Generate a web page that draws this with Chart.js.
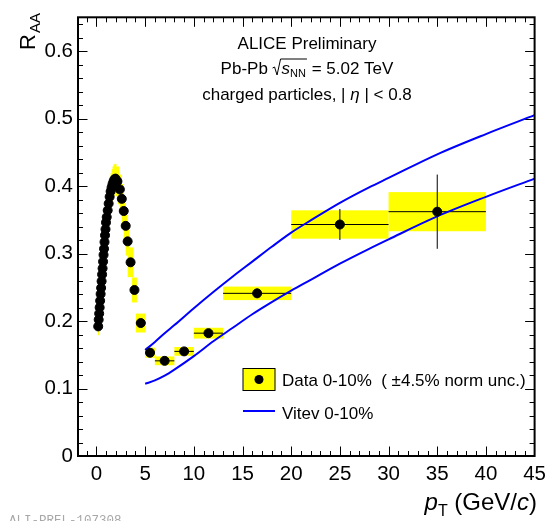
<!DOCTYPE html>
<html>
<head>
<meta charset="utf-8">
<script src="https://cdn.jsdelivr.net/npm/chart.js@4.4.1/dist/chart.umd.min.js"></script>
<style>
  html, body { margin: 0; padding: 0; background: #fff; }
</style>
</head>
<body>
<canvas id="raaChart" width="552" height="521"></canvas>
<script>
// Données ALICE 0-10% (pT, RAA, erreurs)
const dataPt = [0.175, 0.225, 0.275, 0.325, 0.375, 0.425, 0.475, 0.525, 0.575, 0.625, 0.675, 0.725, 0.775, 0.825, 0.875, 0.925, 0.975,
  1.05, 1.15, 1.25, 1.35, 1.45, 1.55, 1.65, 1.75, 1.85, 1.95,
  2.15, 2.4, 2.6, 2.8, 3.0, 3.2, 3.5, 3.9, 4.55,
  5.5, 7, 9, 11.5, 16.5, 25, 35];
const dataRaa = [0.192, 0.202, 0.211, 0.220, 0.230, 0.240, 0.249, 0.259, 0.269, 0.278, 0.288, 0.298, 0.307, 0.317, 0.327, 0.336, 0.346,
  0.354, 0.364, 0.374, 0.384, 0.392, 0.398, 0.403, 0.407, 0.410, 0.411,
  0.407, 0.395, 0.381, 0.363, 0.341, 0.318, 0.287, 0.246, 0.197,
  0.153, 0.141, 0.155, 0.182, 0.241, 0.343, 0.362];
const dataStat = [0.002, 0.002, 0.002, 0.002, 0.002, 0.002, 0.002, 0.002, 0.002, 0.002, 0.002, 0.002, 0.002, 0.002, 0.002, 0.002, 0.002,
  0.002, 0.002, 0.002, 0.002, 0.002, 0.002, 0.002, 0.002, 0.002, 0.002,
  0.002, 0.002, 0.002, 0.002, 0.002, 0.002, 0.002, 0.002, 0.002,
  0.003, 0.003, 0.003, 0.004, 0.007, 0.023, 0.055];
const dataSys = [0.013, 0.013, 0.014, 0.014, 0.015, 0.015, 0.016, 0.016, 0.017, 0.017, 0.018, 0.018, 0.018, 0.019, 0.019, 0.019, 0.020,
  0.020, 0.020, 0.021, 0.021, 0.021, 0.021, 0.022, 0.022, 0.022, 0.022,
  0.022, 0.022, 0.022, 0.021, 0.021, 0.021, 0.022, 0.0185, 0.014,
  0.0075, 0.0065, 0.0065, 0.008, 0.010, 0.021, 0.029];
// demi-largeur des intervalles en pT
const binHalf = [0.025, 0.025, 0.025, 0.025, 0.025, 0.025, 0.025, 0.025, 0.025, 0.025, 0.025, 0.025, 0.025, 0.025, 0.025, 0.025, 0.025,
  0.1, 0.1, 0.1, 0.1, 0.1, 0.1, 0.1, 0.1, 0.1, 0.1,
  0.2, 0.2, 0.2, 0.2, 0.2, 0.2, 0.3, 0.25, 0.5,
  0.5, 1, 1, 1.5, 3.5, 5, 5];

// Modèle Vitev 0-10% (bande haute et basse)
const vitevPt = [5, 6, 7, 8, 10, 12, 14, 16, 18, 20, 22, 25, 28, 30, 35, 40, 45];
const vitevHigh = [0.157, 0.169, 0.182, 0.194, 0.219, 0.243, 0.266, 0.288, 0.310, 0.331, 0.349, 0.375, 0.398, 0.412, 0.447, 0.477, 0.505];
const vitevLow = [0.107, 0.112, 0.119, 0.128, 0.148, 0.170, 0.190, 0.210, 0.228, 0.245, 0.261, 0.285, 0.307, 0.321, 0.355, 0.384, 0.411];

// Graduations
const xTicks = [0, 5, 10, 15, 20, 25, 30, 35, 40, 45];
const yTicks = [0, 0.1, 0.2, 0.3, 0.4, 0.5, 0.6];
const yTickLabels = ['0', '0.1', '0.2', '0.3', '0.4', '0.5', '0.6'];

const FONT = '"Liberation Sans", Arial, Helvetica, sans-serif';
const BLUE = '#0000ff';
const YELLOW = '#ffff00';

// Plugin style ROOT : boîtes systématiques, cadre, graduations internes, textes
const rootStyle = {
  id: 'rootStyle',
  beforeDatasetsDraw(chart) {
    const { ctx, chartArea: a, scales: { x, y } } = chart;
    ctx.save();
    ctx.beginPath();
    ctx.rect(a.left, a.top, a.width, a.height);
    ctx.clip();

    // boîtes d'erreur systématique
    ctx.fillStyle = YELLOW;
    dataPt.forEach((p, i) => {
      const x0 = x.getPixelForValue(p - binHalf[i]);
      const x1 = x.getPixelForValue(p + binHalf[i]);
      const y0 = y.getPixelForValue(dataRaa[i] + dataSys[i]);
      const y1 = y.getPixelForValue(dataRaa[i] - dataSys[i]);
      ctx.fillRect(x0, y0, Math.max(x1 - x0, 1), y1 - y0);
    });

    // barres d'erreur statistique
    ctx.strokeStyle = '#000';
    ctx.lineWidth = 1;
    ctx.beginPath();
    dataPt.forEach((p, i) => {
      const px = x.getPixelForValue(p);
      const py = y.getPixelForValue(dataRaa[i]);
      ctx.moveTo(x.getPixelForValue(p - binHalf[i]), py);
      ctx.lineTo(x.getPixelForValue(p + binHalf[i]), py);
      ctx.moveTo(px, y.getPixelForValue(dataRaa[i] + dataStat[i]));
      ctx.lineTo(px, y.getPixelForValue(dataRaa[i] - dataStat[i]));
    });
    ctx.stroke();
    ctx.restore();
  },
  afterDraw(chart) {
    const { ctx, chartArea: a, scales: { x, y } } = chart;
    ctx.save();

    // cadre
    ctx.strokeStyle = '#000';
    ctx.lineWidth = 2;
    ctx.strokeRect(a.left, a.top, a.right - a.left, a.bottom - a.top);

    // graduations vers l'intérieur
    ctx.lineWidth = 1;
    ctx.beginPath();
    for (let k = -1; k <= 45; k++) {
      const px = Math.round(x.getPixelForValue(k)) + 0.5;
      if (px < a.left || px > a.right) continue;
      const len = k % 5 === 0 ? 9.5 : 5;
      ctx.moveTo(px, a.bottom); ctx.lineTo(px, a.bottom - len);
      ctx.moveTo(px, a.top); ctx.lineTo(px, a.top + len);
    }
    for (let k = 0; k <= 32; k++) {
      const py = Math.round(y.getPixelForValue(k * 0.02)) + 0.5;
      const len = k % 5 === 0 ? 9.5 : 5;
      ctx.moveTo(a.left, py); ctx.lineTo(a.left + len, py);
      ctx.moveTo(a.right, py); ctx.lineTo(a.right - len, py);
    }
    ctx.stroke();

    ctx.fillStyle = '#000';
    ctx.textBaseline = 'alphabetic';

    // titre axe Y : R_AA
    ctx.save();
    ctx.translate(35, 50);
    ctx.rotate(-Math.PI / 2);
    ctx.textAlign = 'left';
    ctx.font = '22px ' + FONT;
    ctx.fillText('R', 0, 0);
    const wR = ctx.measureText('R').width;
    ctx.font = '15px ' + FONT;
    ctx.fillText('AA', wR + 1, 5);
    ctx.restore();

    // titre axe X : p_T (GeV/c)
    const xParts = [
      { t: 'p', f: 'italic 24px ' + FONT, dy: 0 },
      { t: 'T', f: '16px ' + FONT, dy: 6 },
      { t: ' (GeV/', f: '24px ' + FONT, dy: 0 },
      { t: 'c', f: 'italic 24px ' + FONT, dy: 0 },
      { t: ')', f: '24px ' + FONT, dy: 0 }
    ];
    let total = 0;
    xParts.forEach(p => { ctx.font = p.f; p.w = ctx.measureText(p.t).width; total += p.w; });
    let cx = 537 - total;
    ctx.textAlign = 'left';
    xParts.forEach(p => { ctx.font = p.f; ctx.fillText(p.t, cx, 510 + p.dy); cx += p.w; });

    // textes ALICE
    const mid = 307;
    ctx.textAlign = 'center';
    ctx.font = '17px ' + FONT;
    ctx.fillText('ALICE Preliminary', mid, 49);

    // Pb-Pb √sNN = 5.02 TeV
    ctx.textAlign = 'left';
    const f17 = '17px ' + FONT, fIt = 'italic 17px ' + FONT, f11 = '11px ' + FONT;
    ctx.font = f17; const w1 = ctx.measureText('Pb-Pb ').width;
    const wRad = 9;
    ctx.font = fIt; const wS = ctx.measureText('s').width;
    ctx.font = f11; const wNN = ctx.measureText('NN').width;
    ctx.font = f17; const w2 = ctx.measureText(' = 5.02 TeV').width;
    let sx = mid - (w1 + wRad + wS + wNN + 1 + w2) / 2;
    const by = 74;
    ctx.font = f17; ctx.fillText('Pb-Pb ', sx, by); sx += w1;
    ctx.beginPath();
    ctx.lineWidth = 1;
    ctx.moveTo(sx, by - 6);
    ctx.lineTo(sx + 2, by - 7);
    ctx.lineTo(sx + 4.5, by + 1);
    ctx.lineTo(sx + 8, by - 15);
    ctx.lineTo(sx + wRad + wS + wNN + 1, by - 15);
    ctx.stroke();
    sx += wRad;
    ctx.font = fIt; ctx.fillText('s', sx, by); sx += wS;
    ctx.font = f11; ctx.fillText('NN', sx, by + 3); sx += wNN + 1;
    ctx.font = f17; ctx.fillText(' = 5.02 TeV', sx, by);

    // charged particles, | η | < 0.8
    const cParts = [
      { t: 'charged particles, | ', f: f17 },
      { t: 'η', f: fIt },
      { t: ' | < 0.8', f: f17 }
    ];
    total = 0;
    cParts.forEach(p => { ctx.font = p.f; p.w = ctx.measureText(p.t).width; total += p.w; });
    cx = mid - total / 2;
    cParts.forEach(p => { ctx.font = p.f; ctx.fillText(p.t, cx, 100); cx += p.w; });

    // légende
    ctx.fillStyle = YELLOW;
    ctx.fillRect(243, 368.5, 32, 22);
    ctx.strokeStyle = '#000';
    ctx.lineWidth = 1;
    ctx.strokeRect(243, 368.5, 32, 22);
    ctx.fillStyle = '#000';
    ctx.beginPath();
    ctx.arc(259, 379.5, 4.5, 0, Math.PI * 2);
    ctx.fill();
    ctx.strokeStyle = BLUE;
    ctx.lineWidth = 2;
    ctx.beginPath();
    ctx.moveTo(243, 411);
    ctx.lineTo(275, 411);
    ctx.stroke();
    ctx.fillStyle = '#000';
    ctx.font = f17;
    ctx.fillText('Data 0-10%  ( \u00b14.5% norm unc.)', 282, 386);
    ctx.fillText('Vitev 0-10%', 282, 419);

    // identifiant de la figure
    ctx.fillStyle = '#a8a8a8';
    ctx.font = '12.5px "Liberation Mono", monospace';
    ctx.fillText('ALI-PREL-107308', 9, 524);

    ctx.restore();
  }
};

const ctx = document.getElementById('raaChart').getContext('2d');
const raaChart = new Chart(ctx, {
  type: 'scatter',
  data: {
    datasets: [
      {
        label: 'Data 0-10%',
        data: dataPt.map((p, i) => ({ x: p, y: dataRaa[i] })),
        backgroundColor: '#000',
        borderColor: '#000',
        pointRadius: 4.5,
        pointHoverRadius: 4.5,
        showLine: false
      },
      {
        label: 'Vitev 0-10% (haut)',
        type: 'line',
        data: vitevPt.map((p, i) => ({ x: p, y: vitevHigh[i] })),
        borderColor: BLUE,
        borderWidth: 2,
        pointRadius: 0,
        fill: false,
        cubicInterpolationMode: 'monotone'
      },
      {
        label: 'Vitev 0-10% (bas)',
        type: 'line',
        data: vitevPt.map((p, i) => ({ x: p, y: vitevLow[i] })),
        borderColor: BLUE,
        borderWidth: 2,
        pointRadius: 0,
        fill: false,
        cubicInterpolationMode: 'monotone'
      }
    ]
  },
  options: {
    responsive: false,
    animation: false,
    layout: { padding: { left: 0, top: 14, right: 15, bottom: 0 } },
    plugins: {
      legend: { display: false },
      tooltip: { enabled: false }
    },
    scales: {
      x: {
        type: 'linear',
        min: -1.9,
        max: 45,
        grid: { display: false, drawTicks: false },
        border: { display: false },
        afterBuildTicks: s => { s.ticks = xTicks.map(v => ({ value: v })); },
        afterFit: s => { s.height = 65; },
        ticks: {
          color: '#000',
          font: { family: FONT, size: 20.5 },
          padding: 6,
          maxRotation: 0,
          autoSkip: false,
          callback: (v, i) => String(xTicks[i])
        }
      },
      y: {
        type: 'linear',
        min: 0,
        max: 0.65,
        grid: { display: false, drawTicks: false },
        border: { display: false },
        afterBuildTicks: s => { s.ticks = yTicks.map(v => ({ value: v })); },
        afterFit: s => { s.width = 78; },
        ticks: {
          color: '#000',
          font: { family: FONT, size: 20.5 },
          padding: 5,
          autoSkip: false,
          callback: (v, i) => yTickLabels[i]
        }
      }
    }
  },
  plugins: [rootStyle]
});
</script>
</body>
</html>
